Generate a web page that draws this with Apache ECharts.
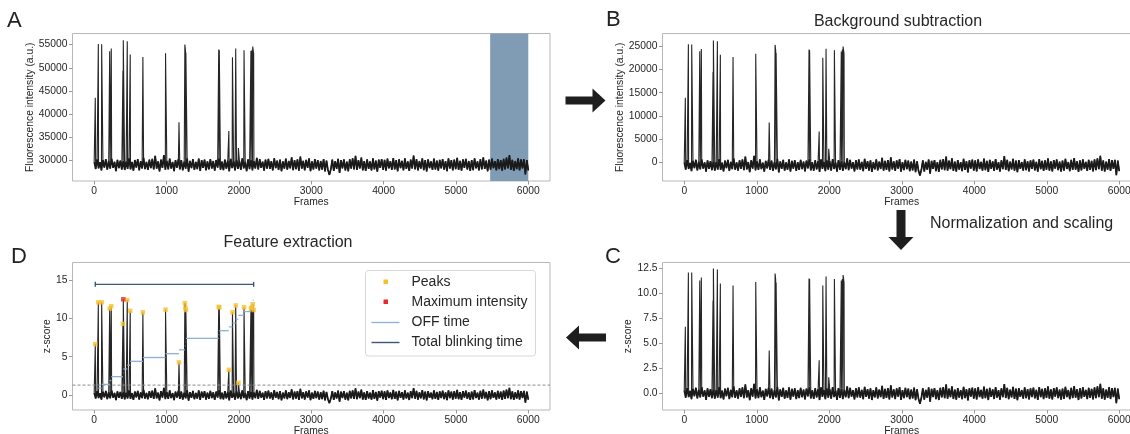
<!DOCTYPE html>
<html><head><meta charset="utf-8">
<script src="https://cdn.jsdelivr.net/npm/echarts@6/dist/echarts.min.js"></script>
<style>html,body{margin:0;padding:0;background:#fff}#c{width:1130px;height:434px}</style>
</head><body><div id="c"></div>
<script>
// ---------- data ----------
const xTicks = [0, 1000, 2000, 3000, 4000, 5000, 6000];
const yTicksA = [30000, 35000, 40000, 45000, 50000, 55000];
const yTicksB = [0, 5000, 10000, 15000, 20000, 25000];
const yTicksC = [0, 2.5, 5, 7.5, 10, 12.5];
const yTicksD = [0, 5, 10, 15];

// baseline noise of the trace (hundredths of a z-score), one value every ~20 frames
const noiseZ100 = [
 30,-45,52,-38,24,-60,44,-30,55,-52,36,-42,60,-34,28,-66,48,-36,40,-50,
 38,-55,30,-44,62,-48,26,-62,46,-30,54,-58,34,-40,68,-46,28,-54,50,-36,
 58,-50,88,-42,32,-70,50,-34,95,-52,38,-48,60,-40,26,-66,44,-32,56,-48,
 46,-58,30,-42,64,-72,38,-36,54,-54,28,-46,60,-64,44,-34,50,-58,32,-48,
 54,-40,36,-62,46,-32,64,-52,30,-56,50,-42,40,-68,58,-36,32,-60,48,-44,
 38,-54,62,-38,28,-66,52,-46,44,-58,34,-40,68,-50,54,-34,30,-62,50,-42,
 58,-44,34,-60,64,-36,40,-54,50,-68,32,-42,60,-52,36,-38,74,-56,44,-46,
 52,-62,80,-42,38,-58,48,-34,62,-66,32,-50,54,-40,46,-60,36,-52,56,-70,
 40,-54,-105,-46,50,-64,34,-44,58,-85,44,-38,52,-60,30,-68,54,-42,62,-50,
 88,-54,46,-40,70,-58,36,-64,52,-44,32,-60,64,-48,40,-72,50,-34,56,-54,
 48,-62,60,-38,34,-54,66,-50,44,-68,54,-36,38,-58,62,-44,32,-64,50,-40,
 92,-48,54,-60,36,-42,64,-56,46,-70,52,-36,32,-54,60,-50,40,-62,48,-38,
 56,-52,34,-66,62,-40,44,-58,50,-46,68,-54,38,-62,52,-34,58,-50,36,-64,
 46,-56,64,-38,32,-60,54,-48,72,-44,40,-68,50,-52,60,-36,34,-58,54,-46,
 44,-62,58,-50,70,-40,95,-54,48,-64,36,-46,62,-58,52,-38,54,-100,46,-60
];
// raw baseline level / a.u. per z-score unit (panel A) and background-subtracted level (panel B)
const baselineA = 29100, baselineB = -600, auPerZ = 2130;

// blinking events
const spikeFrames = [15, 57, 103, 214, 236, 397, 402, 457, 498, 673, 986, 1172, 1253, 1261, 1267, 1721, 1729, 1861, 1911, 1956, 1993, 2071, 2166, 2181, 2191, 2204];
const spikeA = [43550, 55140, 55100, 53560, 54140, 49330, 55930, 55720, 52840, 52340, 53130, 38260, 55000, 53800, 53300, 53920, 53800, 36320, 52270, 54140, 32660, 53780, 53600, 53900, 54570, 53060];
const spikeB = [13900, 25430, 25400, 23920, 24420, 19450, 26220, 26080, 23200, 22700, 23410, 8570, 25290, 24140, 23600, 24280, 24150, 6630, 22550, 24490, 2950, 24140, 23900, 24300, 24930, 23410];
const spikeZ = [6.65, 12.1, 12.1, 11.3, 11.6, 9.3, 12.5, 12.4, 11.0, 10.8, 11.15, 4.27, 12.0, 11.4, 11.1, 11.5, 11.45, 3.3, 10.8, 11.7, 1.6, 11.45, 11.3, 11.45, 11.85, 11.1];

// OFF times (start frame, end frame, drawing height in z)
const offStart = [57, 103, 214, 236, 397, 402, 457, 498, 673, 986, 1172, 1253, 1261, 1267, 1721, 1729, 1861, 1911, 1956, 1993, 2071, 2166, 2181, 2191];
const offEnd   = [103, 214, 236, 397, 402, 457, 498, 673, 986, 1172, 1253, 1261, 1267, 1721, 1729, 1861, 1911, 1956, 1993, 2071, 2166, 2181, 2191, 2204];
const offZ     = [0.9, 1.4, 1.9, 2.4, 2.9, 3.4, 3.9, 4.4, 4.9, 5.4, 5.9, 6.4, 6.9, 7.4, 7.9, 8.4, 8.9, 9.4, 9.9, 10.4, 10.9, 11.4, 11.9, 12.4];

const blinkStart = 15, blinkEnd = 2204, blinkZ = 14.45;
const threshold = 1.3;
const bgStart = 5473, bgEnd = 6000;

// ---------- build ----------
const FONT = '"Liberation Sans", Arial, sans-serif';
const TXT = '#262626';
const step = 6000 / (noiseZ100.length - 1);
function baseline(base, scale) {
  return noiseZ100.map((n, i) => [i * step, base + scale * n / 100]);
}
function trace(base, scale, spikes) {
  const pts = baseline(base, scale);
  spikeFrames.forEach((f, i) => pts.push([f, spikes[i]]));
  pts.sort((a, b) => a[0] - b[0]);
  return pts;
}
const dataA = trace(baselineA, auPerZ, spikeA);
const dataB = trace(baselineB, auPerZ, spikeB);
const dataC = trace(0, 1, spikeZ);
let maxIdx = 0;
spikeZ.forEach((v, i) => { if (v > spikeZ[maxIdx]) maxIdx = i; });
const peaks = spikeFrames.map((f, i) => [f, spikeZ[i]]).filter((_, i) => i !== maxIdx);
const maxPeak = [[spikeFrames[maxIdx], spikeZ[maxIdx]]];
const offData = offStart.map((s, i) => [s, offEnd[i], offZ[i]]);

const grids = [
  { left: 72.5, top: 33.5, width: 477.5, height: 147.5 },
  { left: 662.5, top: 33.5, right: -11, height: 147.5 },
  { left: 662.5, top: 262.5, right: -11, height: 147.5 },
  { left: 72.5, top: 262.5, width: 477.5, height: 147.5 }
].map(g => Object.assign(g, { show: true, borderColor: '#b8b8b8', borderWidth: 1, backgroundColor: 'transparent', containLabel: false, outerBoundsMode: 'none' }));

function xAx(gi) {
  return {
    type: 'value', gridIndex: gi, min: -300, max: 6300,
    name: 'Frames', nameLocation: 'middle', nameGap: 15,
    nameTextStyle: { fontSize: 10.3, color: TXT, fontFamily: FONT },
    axisLine: { show: false, onZero: false },
    axisTick: { show: true, length: 3.5, lineStyle: { color: '#999' }, customValues: xTicks },
    axisLabel: { fontSize: 10.3, color: TXT, fontFamily: FONT, margin: 5, customValues: xTicks, formatter: v => String(v) },
    splitLine: { show: false }
  };
}
function yAx(gi, min, max, ticks, name, gap, fmt) {
  return {
    type: 'value', gridIndex: gi, min: min, max: max,
    name: name, nameLocation: 'middle', nameGap: gap,
    nameTextStyle: { fontSize: 10.3, color: TXT, fontFamily: FONT },
    axisLine: { show: false, onZero: false },
    axisTick: { show: true, length: 3.5, lineStyle: { color: '#999' }, customValues: ticks },
    axisLabel: { fontSize: 10.3, color: TXT, fontFamily: FONT, margin: 5, customValues: ticks, formatter: fmt },
    splitLine: { show: false }
  };
}

function traceSeries(gi, data) {
  return { type: 'line', xAxisIndex: gi, yAxisIndex: gi, data: data, symbol: 'none', z: 3,
    lineStyle: { color: '#262626', width: 1.1 }, silent: true, animation: false };
}
function bandSeries(gi, data) {
  return { type: 'line', xAxisIndex: gi, yAxisIndex: gi, data: data, symbol: 'none', z: 3,
    lineStyle: { color: '#1a1a1a', width: 1.7 }, silent: true, animation: false };
}

const option = {
  animation: false,
  grid: grids,
  xAxis: [xAx(0), xAx(1), xAx(2), xAx(3)],
  yAxis: [
    yAx(0, 25550, 57400, yTicksA, 'Fluorescence intensity (a.u.)', 31, v => String(v)),
    yAx(1, -4000, 27750, yTicksB, 'Fluorescence intensity (a.u.)', 30, v => String(v)),
    yAx(2, -1.68, 13.1, yTicksC, 'z-score', 21, v => v.toFixed(1)),
    yAx(3, -1.95, 17.3, yTicksD, 'z-score', 12, v => String(v))
  ],
  series: [
    { // background region used for subtraction
      type: 'custom', xAxisIndex: 0, yAxisIndex: 0, z: 1, silent: true,
      data: [[bgStart, bgEnd]],
      renderItem: function (params, api) {
        const p0 = api.coord([api.value(0), 57400]);
        const p1 = api.coord([api.value(1), 25550]);
        return { type: 'rect', shape: { x: p0[0], y: p0[1], width: p1[0] - p0[0], height: p1[1] - p0[1] },
          style: { fill: '#7f9cb4' } };
      }
    },
    traceSeries(0, dataA), bandSeries(0, baseline(baselineA, auPerZ)),
    traceSeries(1, dataB), bandSeries(1, baseline(baselineB, auPerZ)),
    traceSeries(2, dataC), bandSeries(2, baseline(0, 1)),
    traceSeries(3, dataC), bandSeries(3, baseline(0, 1)),
    { // threshold
      type: 'line', xAxisIndex: 3, yAxisIndex: 3, symbol: 'none', z: 4, silent: true,
      data: [[-300, threshold], [6300, threshold]],
      lineStyle: { color: '#8a8a8a', width: 1, type: [3, 2] }
    },
    { // OFF time
      type: 'custom', name: 'OFF time', xAxisIndex: 3, yAxisIndex: 3, z: 5, silent: true,
      data: offData,
      renderItem: function (params, api) {
        const a = api.coord([api.value(0), api.value(2)]);
        const b = api.coord([api.value(1), api.value(2)]);
        return { type: 'line', shape: { x1: a[0], y1: a[1], x2: b[0], y2: b[1] },
          style: { stroke: '#8fb0d6', lineWidth: 1.3 } };
      }
    },
    { // total blinking time
      type: 'custom', name: 'Total blinking time', xAxisIndex: 3, yAxisIndex: 3, z: 5, silent: true,
      data: [[blinkStart, blinkEnd, blinkZ]],
      renderItem: function (params, api) {
        const a = api.coord([api.value(0), api.value(2)]);
        const b = api.coord([api.value(1), api.value(2)]);
        const st = { stroke: '#3f5776', lineWidth: 1.4 };
        return { type: 'group', children: [
          { type: 'line', shape: { x1: a[0], y1: a[1], x2: b[0], y2: b[1] }, style: st },
          { type: 'line', shape: { x1: a[0], y1: a[1] - 2.5, x2: a[0], y2: a[1] + 2.5 }, style: st },
          { type: 'line', shape: { x1: b[0], y1: b[1] - 2.5, x2: b[0], y2: b[1] + 2.5 }, style: st }
        ] };
      }
    },
    { type: 'scatter', name: 'Peaks', xAxisIndex: 3, yAxisIndex: 3, z: 6, silent: true,
      data: peaks, symbol: 'rect', symbolSize: 4.5, itemStyle: { color: '#f7c12c' } },
    { type: 'scatter', name: 'Maximum intensity', xAxisIndex: 3, yAxisIndex: 3, z: 7, silent: true,
      data: maxPeak, symbol: 'rect', symbolSize: 4.5, itemStyle: { color: '#e8282a' } }
  ],
  graphic: [
    // panel letters
    { type: 'text', left: 7, top: 10, style: { text: 'A', fontSize: 22, fill: '#222', fontFamily: FONT } },
    { type: 'text', left: 606, top: 9, style: { text: 'B', fontSize: 22, fill: '#222', fontFamily: FONT } },
    { type: 'text', left: 605, top: 246, style: { text: 'C', fontSize: 22, fill: '#222', fontFamily: FONT } },
    { type: 'text', left: 11, top: 246, style: { text: 'D', fontSize: 22, fill: '#222', fontFamily: FONT } },
    // titles
    { type: 'text', x: 898, y: 22, style: { text: 'Background subtraction', fontSize: 16, fill: TXT, fontFamily: FONT, align: 'center', verticalAlign: 'middle' } },
    { type: 'text', x: 288, y: 243, style: { text: 'Feature extraction', fontSize: 16, fill: TXT, fontFamily: FONT, align: 'center', verticalAlign: 'middle' } },
    { type: 'text', x: 930, y: 224, style: { text: 'Normalization and scaling', fontSize: 16, fill: TXT, fontFamily: FONT, align: 'left', verticalAlign: 'middle' } },
    // arrows
    { type: 'polygon', shape: { points: [[565.5, 96.5], [592.5, 96.5], [592.5, 88.5], [605.5, 100.5], [592.5, 112.5], [592.5, 104.5], [565.5, 104.5]] }, style: { fill: '#1e1e1e' } },
    { type: 'polygon', shape: { points: [[606, 333.5], [579, 333.5], [579, 325.5], [566, 337.5], [579, 349.5], [579, 341.5], [606, 341.5]] }, style: { fill: '#1e1e1e' } },
    { type: 'polygon', shape: { points: [[896.5, 210], [905.5, 210], [905.5, 237], [913.5, 237], [901, 250], [888.5, 237], [896.5, 237]] }, style: { fill: '#1e1e1e' } },
    // legend of panel D
    { type: 'rect', shape: { x: 365.5, y: 270.5, width: 170, height: 85.5, r: 3 }, style: { fill: 'rgba(255,255,255,0.85)', stroke: '#d8d8d8', lineWidth: 1 }, z: 50 },
    { type: 'rect', shape: { x: 383.5, y: 279.5, width: 4.5, height: 4.5 }, style: { fill: '#f7c12c' }, z: 51 },
    { type: 'rect', shape: { x: 383.5, y: 299.5, width: 4.5, height: 4.5 }, style: { fill: '#e8282a' }, z: 51 },
    { type: 'line', shape: { x1: 371.5, y1: 322.5, x2: 399.5, y2: 322.5 }, style: { stroke: '#8fb0d6', lineWidth: 1.3 }, z: 51 },
    { type: 'line', shape: { x1: 371.5, y1: 342.5, x2: 399.5, y2: 342.5 }, style: { stroke: '#3f5776', lineWidth: 1.4 }, z: 51 },
    { type: 'text', x: 411.5, y: 282, style: { text: 'Peaks', fontSize: 14, fill: TXT, fontFamily: FONT, verticalAlign: 'middle' }, z: 51 },
    { type: 'text', x: 411.5, y: 302, style: { text: 'Maximum intensity', fontSize: 14, fill: TXT, fontFamily: FONT, verticalAlign: 'middle' }, z: 51 },
    { type: 'text', x: 411.5, y: 322.5, style: { text: 'OFF time', fontSize: 14, fill: TXT, fontFamily: FONT, verticalAlign: 'middle' }, z: 51 },
    { type: 'text', x: 411.5, y: 342.5, style: { text: 'Total blinking time', fontSize: 14, fill: TXT, fontFamily: FONT, verticalAlign: 'middle' }, z: 51 }
  ]
};
const chart = echarts.init(document.getElementById('c'), null, { renderer: 'canvas' });
chart.setOption(option);
</script>
</body></html>
